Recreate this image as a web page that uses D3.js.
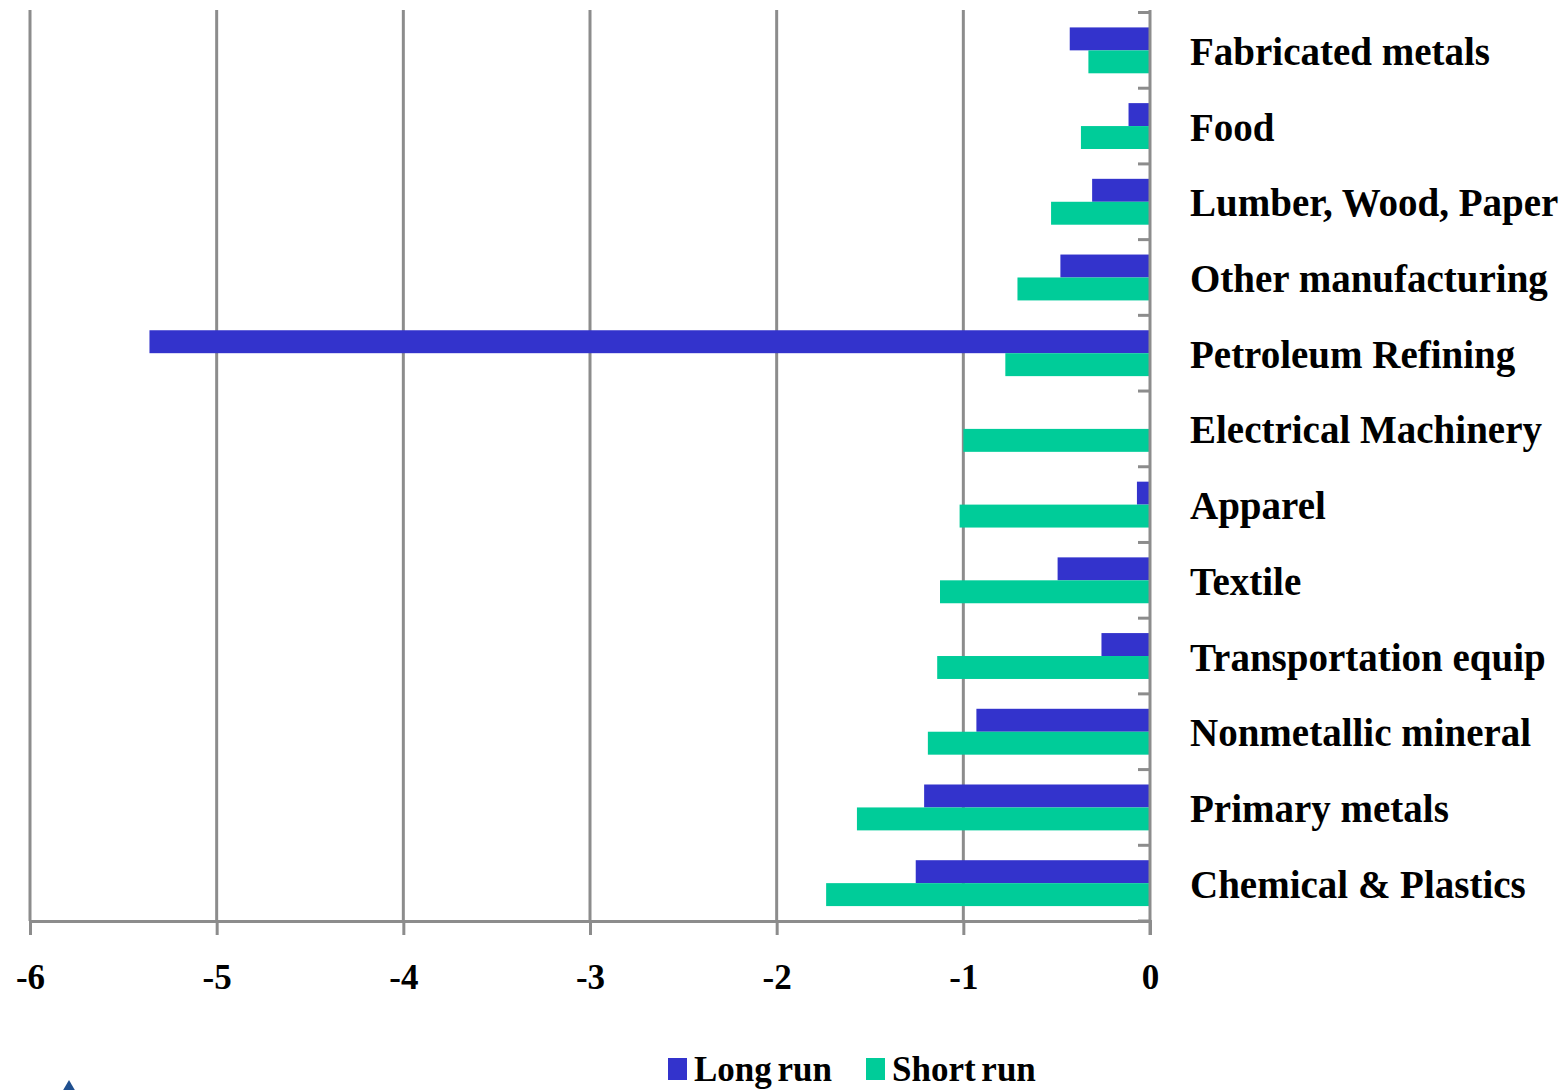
<!DOCTYPE html>
<html>
<head>
<meta charset="utf-8">
<script src="https://cdn.jsdelivr.net/npm/d3@7"></script>
<style>
  html, body { margin: 0; padding: 0; background: #fff; }
  svg { display: block; }
  text { font-family: "Liberation Serif", "Times New Roman", serif; font-weight: bold; fill: #000; }
</style>
</head>
<body>
<svg id="chart" width="1566" height="1090"></svg>
<script>
// Industries, top to bottom
const categories = [
  "Fabricated metals",
  "Food",
  "Lumber, Wood, Paper",
  "Other manufacturing",
  "Petroleum Refining",
  "Electrical Machinery",
  "Apparel",
  "Textile",
  "Transportation equip",
  "Nonmetallic mineral",
  "Primary metals",
  "Chemical & Plastics"
];

// Elasticity estimates per industry
const longRun  = [-0.43, -0.115, -0.31, -0.48, -5.36, 0, -0.07, -0.495, -0.26, -0.93, -1.21, -1.255];
const shortRun = [-0.33, -0.37, -0.53, -0.71, -0.775, -1.0, -1.02, -1.125, -1.14, -1.19, -1.57, -1.735];

const xTicks = [-6, -5, -4, -3, -2, -1, 0];
const seriesNames = ["Long run", "Short run"];
const seriesColors = ["#3333CC", "#00CC99"];

const rows = categories.map((c, i) => ({ category: c, values: [longRun[i], shortRun[i]] }));

const svg = d3.select("#chart");
const plotLeft = 30, plotRight = 1150, plotTop = 12.5, plotBottom = 921;
const gridTop = 10;
const gridColor = "#8c8c8c";

const x = d3.scaleLinear().domain([-6, 0]).range([plotLeft, plotRight]);
const y0 = d3.scaleBand().domain(categories).range([plotTop, plotBottom]).padding(0);
const y1 = d3.scaleBand().domain(seriesNames).range([0, y0.bandwidth()]).paddingInner(0).paddingOuter(0.65);

// vertical gridlines
svg.append("g")
  .selectAll("line")
  .data(xTicks.filter(t => t !== 0))
  .join("line")
  .attr("x1", d => x(d)).attr("x2", d => x(d))
  .attr("y1", gridTop).attr("y2", plotBottom)
  .attr("stroke", gridColor).attr("stroke-width", 3);

// bars
const groups = svg.append("g")
  .selectAll("g")
  .data(rows)
  .join("g")
  .attr("transform", d => `translate(0,${y0(d.category)})`);

groups.selectAll("rect")
  .data(d => d.values.map((v, i) => ({ series: seriesNames[i], value: v, color: seriesColors[i] })))
  .join("rect")
  .attr("x", d => x(Math.min(0, d.value)))
  .attr("width", d => Math.abs(x(d.value) - x(0)))
  .attr("y", d => y1(d.series))
  .attr("height", y1.bandwidth())
  .attr("fill", d => d.color);

// bottom axis
const xAxis = svg.append("g")
  .attr("transform", `translate(0,${plotBottom})`)
  .call(d3.axisBottom(x).tickValues(xTicks).tickSize(14).tickPadding(29).tickFormat(d3.format("d")));
xAxis.select(".domain").attr("stroke", gridColor).attr("stroke-width", 3);
xAxis.selectAll(".tick line").attr("stroke", gridColor).attr("stroke-width", 3);
xAxis.selectAll(".tick text")
  .style("font-family", '"Liberation Serif", "Times New Roman", serif')
  .style("font-weight", "bold")
  .style("font-size", "35px")
  .attr("fill", "#000")
  .text(d => d === 0 ? "0" : "-" + Math.abs(d));

// category axis on the zero line
const yAxis = svg.append("g")
  .attr("transform", `translate(${x(0)},0)`);
yAxis.append("line")
  .attr("x1", 0).attr("x2", 0)
  .attr("y1", gridTop).attr("y2", plotBottom + 14)
  .attr("stroke", gridColor).attr("stroke-width", 3);
yAxis.selectAll("line.tick")
  .data(categories.concat(["__end"]))
  .join("line")
  .attr("class", "tick")
  .attr("x1", -12).attr("x2", 0)
  .attr("y1", (d, i) => i < categories.length ? y0(d) : plotBottom)
  .attr("y2", (d, i) => i < categories.length ? y0(d) : plotBottom)
  .attr("stroke", gridColor).attr("stroke-width", 3);

// category labels
svg.append("g")
  .selectAll("text")
  .data(categories)
  .join("text")
  .attr("x", 1190)
  .attr("y", d => y0(d) + y0.bandwidth() / 2 + 1)
  .attr("dominant-baseline", "central")
  .style("font-size", "39px")
  .text(d => d);

// legend
const legend = svg.append("g").attr("transform", "translate(668,1058)");
const legendOffsets = [0, 198];
seriesNames.forEach((name, i) => {
  const g = legend.append("g").attr("transform", `translate(${legendOffsets[i]},0)`);
  g.append("rect").attr("width", 19).attr("height", 22).attr("fill", seriesColors[i]);
  g.append("text").attr("x", 26).attr("y", 23).style("font-size", "35px")
    .style("word-spacing", "-3px").text(name);
});

// small logo mark at the lower-left corner
svg.append("path")
  .attr("d", d3.symbol(d3.symbolDiamond, 420)())
  .attr("transform", "translate(69,1099)")
  .attr("fill", "#1f4f8f");
</script>
</body>
</html>
